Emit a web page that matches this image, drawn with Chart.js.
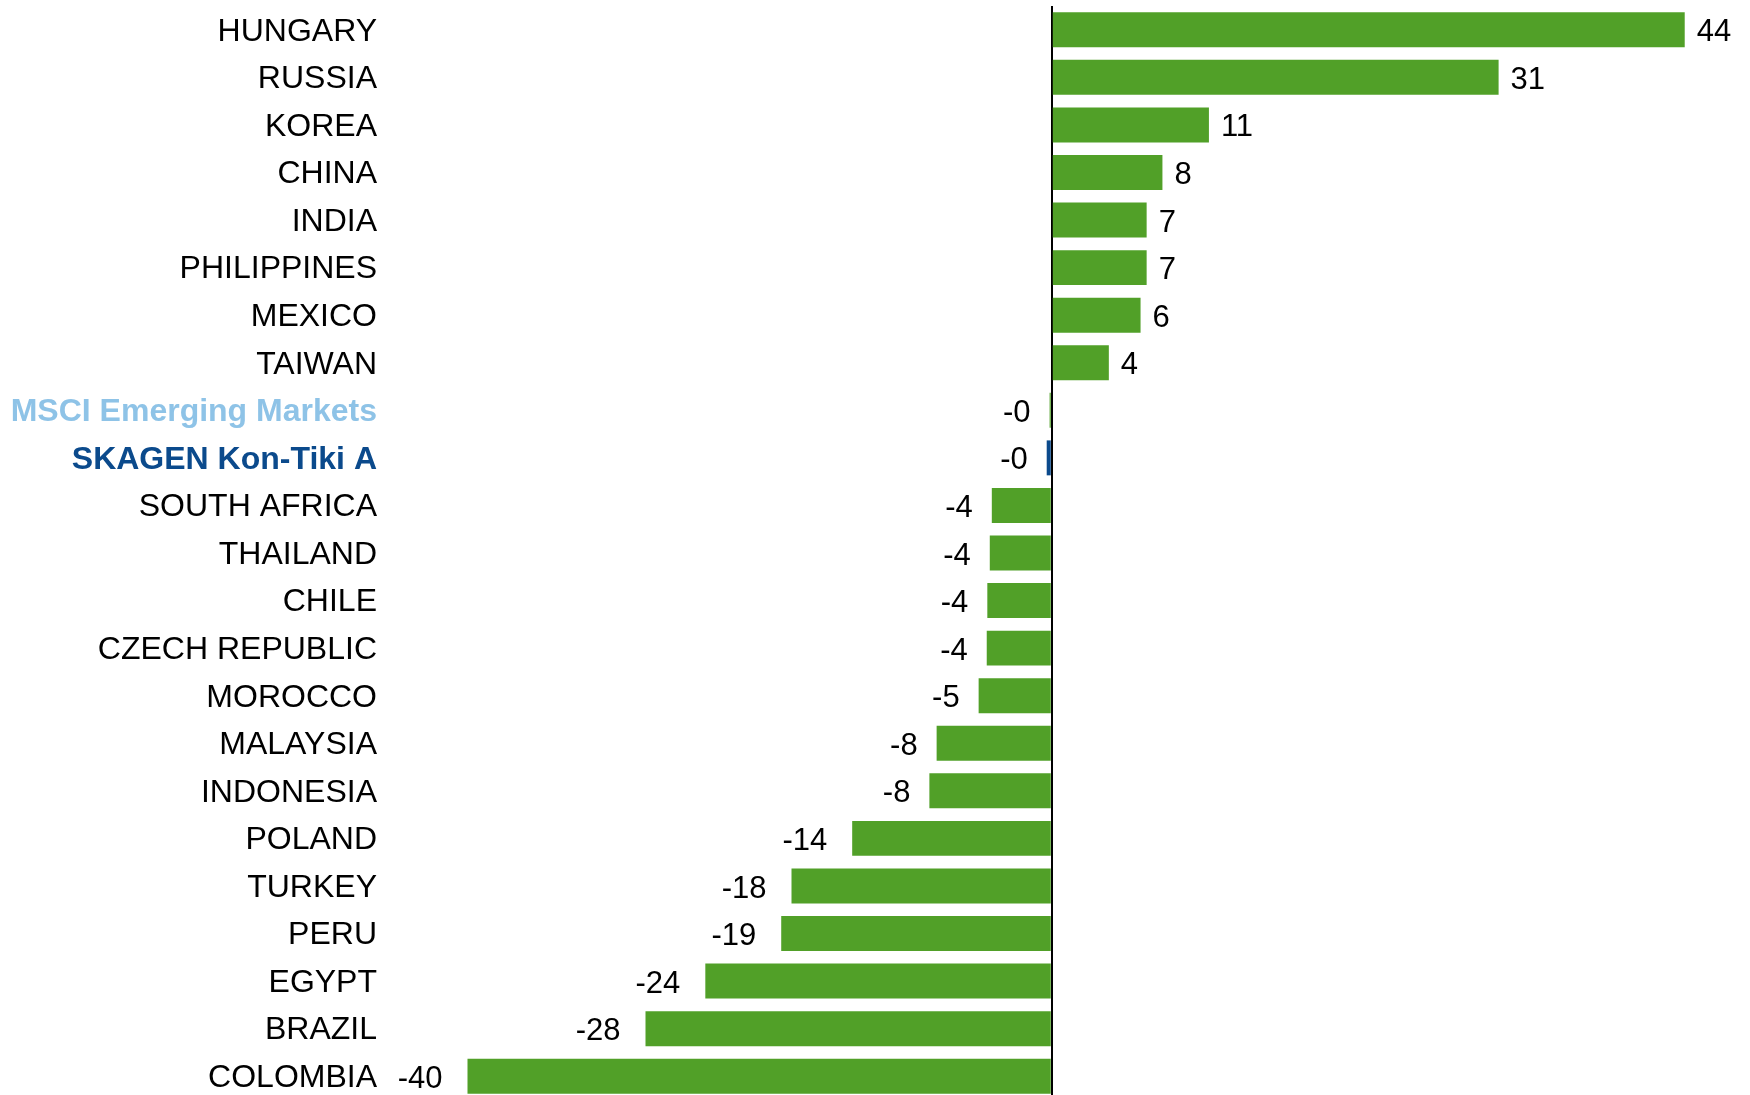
<!DOCTYPE html>
<html>
<head>
<meta charset="utf-8">
<script src="https://cdn.jsdelivr.net/npm/chart.js@4.4.1/dist/chart.umd.min.js"></script>
<style>
  html, body { margin: 0; padding: 0; background: #fff; overflow: hidden; }
  #wrap { width: 1750px; height: 1100px; position: relative; }
</style>
</head>
<body>
<div id="wrap"><canvas id="countryChart"></canvas></div>
<script>
// categories, top to bottom
const countries = [
  "HUNGARY", "RUSSIA", "KOREA", "CHINA", "INDIA", "PHILIPPINES", "MEXICO",
  "TAIWAN", "MSCI Emerging Markets", "SKAGEN Kon-Tiki A", "SOUTH AFRICA",
  "THAILAND", "CHILE", "CZECH REPUBLIC", "MOROCCO", "MALAYSIA", "INDONESIA",
  "POLAND", "TURKEY", "PERU", "EGYPT", "BRAZIL", "COLOMBIA",
];

// return in percent
const returns = [
  43.7, 30.85, 10.85, 7.64, 6.55, 6.55, 6.13, 3.94, -0.15, -0.35, -4.14,
  -4.28, -4.45, -4.49, -5.05, -7.95, -8.45, -13.78, -17.97, -18.68, -23.92,
  -28.05, -40.34,
];

const MSCI = "MSCI Emerging Markets";
const FUND = "SKAGEN Kon-Tiki A";

const green = "#51A028";
const fundBlue = "#0B4A8C";
const msciBlue = "#8EC3E7";

const barColors = countries.map((c) => (c === FUND ? fundBlue : green));

// draws the rounded value next to each bar
const valueLabels = {
  id: "valueLabels",
  afterDatasetsDraw(chart) {
    const ctx = chart.ctx;
    const meta = chart.getDatasetMeta(0);
    ctx.save();
    ctx.font = "31px 'Liberation Sans', Arial, sans-serif";
    ctx.fillStyle = "#000";
    ctx.textBaseline = "middle";
    meta.data.forEach((bar, i) => {
      const v = returns[i];
      const txt = v.toFixed(0);
      if (v >= 0) {
        ctx.textAlign = "left";
        ctx.fillText(txt, bar.x + 12, bar.y + 3);
      } else {
        ctx.textAlign = "right";
        const gap = txt.length > 2 ? 25 : 19;
        ctx.fillText(txt, bar.x - gap, bar.y + 3);
      }
    });
    ctx.restore();
  },
};

const ctx = document.getElementById("countryChart").getContext("2d");

new Chart(ctx, {
  type: "bar",
  data: {
    labels: countries,
    datasets: [
      {
        data: returns,
        backgroundColor: barColors,
        borderWidth: 0,
        barPercentage: 0.735,
        categoryPercentage: 1,
      },
    ],
  },
  options: {
    indexAxis: "y",
    responsive: true,
    maintainAspectRatio: false,
    animation: false,
    layout: { padding: { top: 6, right: 3, bottom: 0, left: 0 } },
    plugins: {
      legend: { display: false },
      tooltip: { enabled: false },
    },
    scales: {
      x: {
        min: -45,
        max: 48,
        afterBuildTicks: (scale) => {
          scale.ticks = [{ value: 0 }];
        },
        afterFit: (scale) => {
          scale.height = 0;
          scale.paddingLeft = 0;
          scale.paddingRight = 0;
        },
        ticks: { display: false },
        border: { display: false },
        grid: {
          drawTicks: false,
          color: "#000",
          lineWidth: 2,
        },
      },
      y: {
        afterFit: (scale) => {
          scale.width = 400;
          scale.paddingTop = 0;
          scale.paddingBottom = 0;
        },
        border: { display: false },
        grid: { display: false, drawTicks: false },
        ticks: {
          autoSkip: false,
          padding: 23,
          labelOffset: 2,
          color: (c) => {
            const name = countries[c.index];
            if (name === MSCI) return msciBlue;
            if (name === FUND) return fundBlue;
            return "#000";
          },
          font: (c) => {
            const name = countries[c.index];
            const bold = name === MSCI || name === FUND;
            return {
              family: "'Liberation Sans', Arial, sans-serif",
              size: 32,
              weight: bold ? "bold" : "normal",
            };
          },
        },
      },
    },
  },
  plugins: [valueLabels],
});
</script>
</body>
</html>
